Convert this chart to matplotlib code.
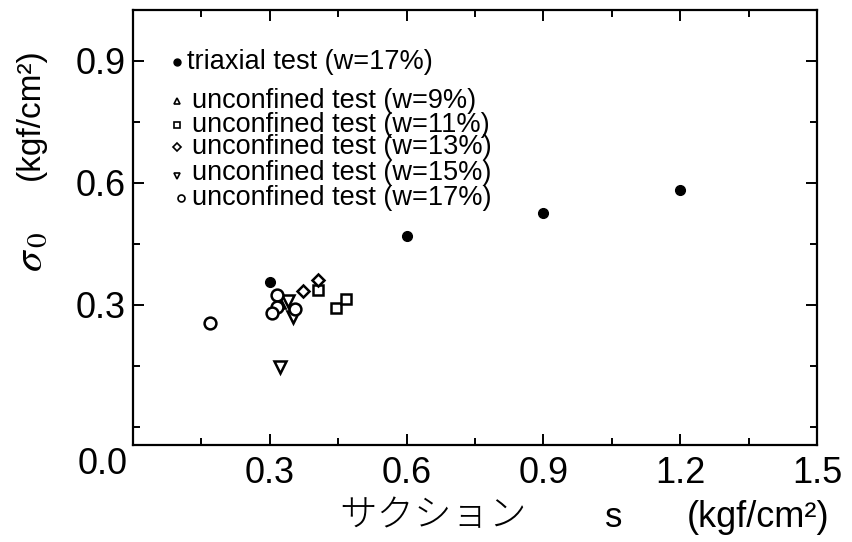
import matplotlib
matplotlib.use('Agg')
import matplotlib.pyplot as plt
from matplotlib.ticker import MultipleLocator

plt.rcParams['font.family'] = ['Liberation Sans', 'Noto Sans CJK JP', 'DejaVu Sans']
plt.rcParams['mathtext.fontset'] = 'stix'

# suction s (kgf/cm2) and sigma_0 (kgf/cm2)
tri_s = [0.30, 0.60, 0.90, 1.20]
tri_sig = [0.357, 0.470, 0.526, 0.583]

w9_s = [0.321]
w9_sig = [0.307]

w11_s = [0.405, 0.446, 0.468]
w11_sig = [0.337, 0.293, 0.315]

w13_s = [0.374, 0.405]
w13_sig = [0.334, 0.361]

w15_s = [0.339, 0.352, 0.323]
w15_sig = [0.310, 0.270, 0.148]

w17_s = [0.168, 0.317, 0.315, 0.306, 0.356]
w17_sig = [0.256, 0.325, 0.295, 0.280, 0.290]

x_ticks = [0.3, 0.6, 0.9, 1.2, 1.5]
y_ticks = [0.3, 0.6, 0.9]

legend_labels = ['triaxial test (w=17%)',
                 'unconfined test (w=9%)',
                 'unconfined test (w=11%)',
                 'unconfined test (w=13%)',
                 'unconfined test (w=15%)',
                 'unconfined test (w=17%)']

fig = plt.figure(figsize=(8.52, 5.42), dpi=100)
ax = fig.add_axes([0.156, 0.179, 0.803, 0.803])

open_kw = dict(linestyle='none', mfc='white', mec='black', mew=1.8, ms=8.5, color='black')

# unconfined tests (open), drawn first so overlaps look like the scan
ax.plot(w9_s, w9_sig, marker='^', **open_kw)
ax.plot(w11_s, w11_sig, marker='s', **dict(open_kw, ms=7.5))
ax.plot(w13_s, w13_sig, marker='D', **dict(open_kw, ms=6.5))
ax.plot(w15_s, w15_sig, marker='v', **open_kw)
ax.plot(w17_s, w17_sig, marker='o', **open_kw)
# triaxial (filled)
ax.plot(tri_s, tri_sig, linestyle='none', marker='o', color='black', ms=7)

ax.set_xlim(0, 1.5)
ax.set_ylim(-0.044, 1.025)
ax.set_xticks(x_ticks)
ax.set_yticks(y_ticks)
ax.xaxis.set_minor_locator(MultipleLocator(0.15))
ax.yaxis.set_minor_locator(MultipleLocator(0.15))
ax.set_xticklabels(['%.1f' % v for v in x_ticks])
ax.set_yticklabels(['%.1f' % v for v in y_ticks])

ax.tick_params(which='both', direction='in', top=True, right=True, width=1.4)
ax.tick_params(which='major', length=8, labelsize=26)
ax.tick_params(axis='x', which='major', pad=8)
ax.tick_params(axis='y', which='major', pad=5)
ax.tick_params(which='minor', length=5)
for sp in ax.spines.values():
    sp.set_linewidth(1.6)

# shared origin label
ax.text(-0.008, -0.044, '0.0', transform=ax.transAxes, ha='right', va='center', fontsize=26)

# hand-placed legend
leg_x = 0.064
rows = [0.880, 0.791, 0.736, 0.685, 0.625, 0.568]
marks = ['o', '^', 's', 'D', 'v', 'o']
for i, (yy, mk, lab) in enumerate(zip(rows, marks, legend_labels)):
    if i == 0:
        ax.plot([leg_x], [yy], marker='o', color='black', ms=5, transform=ax.transAxes, clip_on=False)
        ax.text(0.079, yy, lab, transform=ax.transAxes, va='center', ha='left', fontsize=19.5)
    else:
        ms = 5 if mk != 'D' else 4.2
        ax.plot([leg_x + (0.006 if i == 5 else 0)], [yy - (0.008 if mk == 'v' else 0)], marker=mk,
                linestyle='none', mfc='white', mec='black', mew=1.2, ms=ms,
                transform=ax.transAxes, clip_on=False)
        ax.text(0.086, yy, lab, transform=ax.transAxes, va='center', ha='left', fontsize=19.5)

# y label: sigma_0 and unit
fig.text(0.036, 0.535, r'$\sigma_{\,0}$', rotation=90, ha='center', va='center', fontsize=30)
fig.text(0.036, 0.79, '(kgf/cm²)', rotation=90, ha='center', va='center', fontsize=24)

# x label
fig.text(0.508, 0.048, 'サクション', ha='center', va='center', fontsize=27, fontweight='light')
fig.text(0.72, 0.045, 's', ha='center', va='center', fontsize=25)
fig.text(0.89, 0.045, '(kgf/cm²)', ha='center', va='center', fontsize=26)

fig.savefig('out.png', dpi=100)
